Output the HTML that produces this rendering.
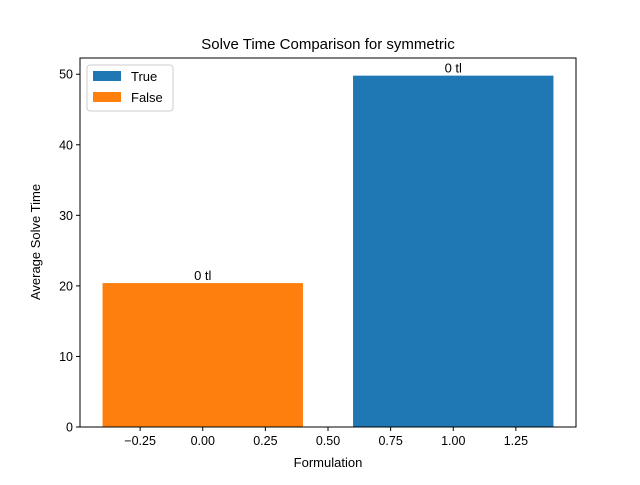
<!DOCTYPE html>
<html><head><meta charset="utf-8"><style>
body{margin:0;background:#fff;}
svg{font-family:"Liberation Sans","DejaVu Sans",sans-serif;}
</style></head><body>
<svg id="chart" width="640" height="480" viewBox="0 0 640 480">
<rect width="640" height="480" fill="#fff"/>
<g id="plot"></g>
</svg>
<script>
const categories = ["False", "True"];
const xPositions = [0, 1];
const values = [20.4, 49.8];
const barLabels = ["0 tl", "0 tl"];
const xTicks = [-0.25, 0.00, 0.25, 0.50, 0.75, 1.00, 1.25];
const yTicks = [0, 10, 20, 30, 40, 50];
const colors = {"True":"#1f77b4","False":"#ff7f0e"};

const L=80,R=576,T=58,B=427;
const xMin=-0.49,xMax=1.49,yMin=0,yMax=52.3;
const sx=v=>L+(v-xMin)/(xMax-xMin)*(R-L);
const sy=v=>B-(v-yMin)/(yMax-yMin)*(B-T);
const NS="http://www.w3.org/2000/svg";
const g=document.getElementById('plot');
function el(t,a,txt){const e=document.createElementNS(NS,t);for(const k in a)e.setAttribute(k,a[k]);if(txt!==undefined)e.textContent=txt;g.appendChild(e);return e;}

categories.forEach((c,i)=>{
  const x0=sx(xPositions[i]-0.4),x1=sx(xPositions[i]+0.4);
  const r=el('rect',{x:x0,y:sy(values[i]),width:x1-x0,height:sy(0)-sy(values[i]),fill:colors[c]});
  
  
  const t=el('text',{x:(x0+x1)/2,y:sy(values[i])-3,'font-size':13,'text-anchor':'middle',fill:'#000'},barLabels[i]);
  
  
});

const frame=el('rect',{x:L,y:T,width:R-L,height:B-T,fill:'none',stroke:'#000','stroke-width':1});



xTicks.forEach(v=>{
  const x=sx(v);
  el('line',{x1:x,x2:x,y1:B,y2:B+4,stroke:'#000'});
  const t=el('text',{x:x,y:B+18,'font-size':12.5,'text-anchor':'middle'},v.toFixed(2).replace('-','\u2212'));
  
  
});
yTicks.forEach(v=>{
  const y=sy(v);
  el('line',{x1:L-4,x2:L,y1:y,y2:y,stroke:'#000'});
  const t=el('text',{x:L-7,y:y+4.5,'font-size':12.5,'text-anchor':'end'},String(v));
  
  
});

const title=el('text',{x:(L+R)/2,y:49,'font-size':15,'text-anchor':'middle'},'Solve Time Comparison for symmetric');


const xl=el('text',{x:(L+R)/2,y:467,'font-size':13,'text-anchor':'middle'},'Formulation');


const yl=el('text',{x:0,y:0,'font-size':13,'text-anchor':'middle',transform:'translate(40,242) rotate(-90)'},'Average Solve Time');



const lg=el('rect',{x:87,y:65,width:86,height:46,rx:3,fill:'#fff',stroke:'#ccc'});


[["True",0],["False",1]].forEach(([c,i])=>{
  const y=70+i*21;
  const s=el('rect',{x:93,y:y+1,width:28,height:10,fill:colors[c]});
  
  
  const t=el('text',{x:131,y:y+11,'font-size':13},c);
  
  
});
</script>
</body></html>
